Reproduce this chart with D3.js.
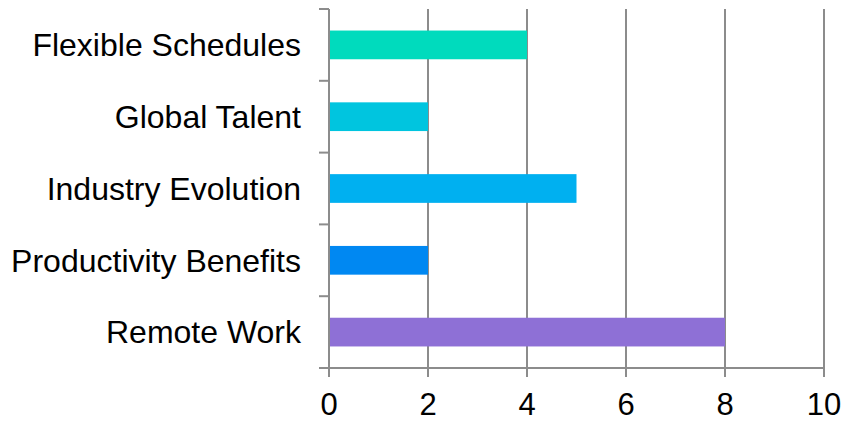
<!DOCTYPE html>
<html><head><meta charset="utf-8">
<script src="https://cdn.jsdelivr.net/npm/d3@7"></script>
<style>body{margin:0;background:#fff}svg{display:block}</style>
</head><body>
<script>
const categories = ["Flexible Schedules","Global Talent","Industry Evolution","Productivity Benefits","Remote Work"];
const values = [4,2,5,2,8];
const colors = ["#00dbbd","#00c5df","#00b0f0","#0088f2","#8e70d6"];
const xTicks = [0,2,4,6,8,10];

const W=843,H=422;
const m={left:329,right:19,top:9,bottom:54};
const svg=d3.select("body").append("svg").attr("width",W).attr("height",H);
const x=d3.scaleLinear().domain([0,10]).range([m.left,W-m.right]);
const y=d3.scaleBand().domain(categories).range([m.top,H-m.bottom]).padding(0);
const grey="#8c8c8c", font="Liberation Sans, Arial, sans-serif";

// gridlines
svg.append("g").selectAll("line").data(xTicks.slice(1)).join("line")
 .attr("x1",d=>x(d)).attr("x2",d=>x(d)).attr("y1",m.top).attr("y2",H-m.bottom+9)
 .attr("stroke",grey).attr("stroke-width",2);

// bars
const bh=y.bandwidth()*0.4;
svg.append("g").selectAll("rect").data(categories).join("rect")
 .attr("x",x(0)).attr("y",(d)=>y(d)+(y.bandwidth()-bh)/2)
 .attr("width",(d,i)=>x(values[i])-x(0)).attr("height",bh)
 .attr("fill",(d,i)=>colors[i]);

// y axis
svg.append("line").attr("x1",x(0)).attr("x2",x(0)).attr("y1",m.top).attr("y2",H-m.bottom+9).attr("stroke",grey).attr("stroke-width",2);
const bounds=categories.map(c=>y(c)).concat([y.range()[1]]);
svg.append("g").selectAll("line").data(bounds).join("line")
 .attr("x1",x(0)-10).attr("x2",x(0)).attr("y1",d=>d).attr("y2",d=>d)
 .attr("stroke",grey).attr("stroke-width",2);
svg.append("g").selectAll("text").data(categories).join("text")
 .attr("x",x(0)-28).attr("y",d=>y(d)+y.bandwidth()/2).attr("dy","0.35em")
 .attr("text-anchor","end").attr("font-family",font).attr("font-size",32).attr("fill","#000").text(d=>d);

// x axis
svg.append("line").attr("x1",x(0)-10).attr("x2",x(10)).attr("y1",H-m.bottom).attr("y2",H-m.bottom).attr("stroke",grey).attr("stroke-width",2);
svg.append("g").selectAll("text").data(xTicks).join("text")
 .attr("x",d=>x(d)).attr("y",H-m.bottom+47).attr("text-anchor","middle")
 .attr("font-family",font).attr("font-size",31).attr("fill","#000").text(d=>d);
</script>
</body></html>
